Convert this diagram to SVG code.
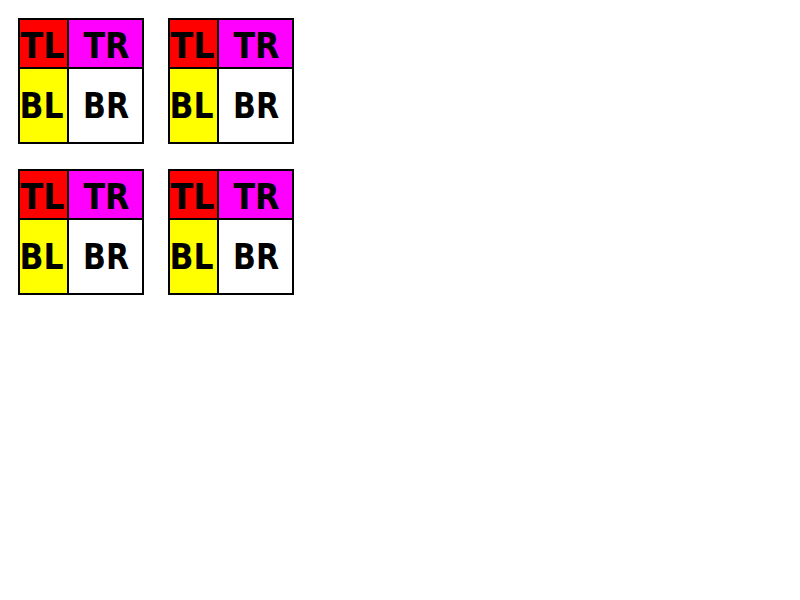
<svg xmlns="http://www.w3.org/2000/svg" width="800" height="600" viewBox="0 0 800 600">
<style>
.tl{fill:#ff0000}.tr{fill:#ff00ff}.bl{fill:#ffff00}.br{fill:#ffffff}
.ln{stroke:#000;stroke-width:2;fill:none}
text{font-family:"DejaVu Sans",Verdana,sans-serif;font-weight:bold;font-size:35px;fill:#000;text-anchor:middle}
</style>
<rect width="800" height="600" fill="#fff"/>
<defs>
<g id="box">
<rect class="tl" x="19" y="19" width="49" height="49"/>
<rect class="tr" x="68" y="19" width="75" height="49"/>
<rect class="bl" x="19" y="68" width="49" height="75"/>
<rect class="br" x="68" y="68" width="75" height="75"/>
<rect class="ln" x="19" y="19" width="124" height="124"/>
<line class="ln" x1="68" y1="19" x2="68" y2="143"/>
<line class="ln" x1="19" y1="68" x2="143" y2="68"/>
<text x="42.5" y="57.5" textLength="44" lengthAdjust="spacingAndGlyphs">TL</text>
<text x="106.5" y="57.5" textLength="46" lengthAdjust="spacingAndGlyphs">TR</text>
<text x="41.5" y="117.5" textLength="44" lengthAdjust="spacingAndGlyphs">BL</text>
<text x="106" y="117.5" textLength="46" lengthAdjust="spacingAndGlyphs">BR</text>
</g>
</defs>
<g id="box1"><use href="#box"/></g>
<g id="box2" transform="translate(150,0)"><use href="#box"/></g>
<g id="box3" transform="translate(0,151)"><use href="#box"/></g>
<g id="box4" transform="translate(150,151)"><use href="#box"/></g>
<g id="connectors"/>
</svg>
